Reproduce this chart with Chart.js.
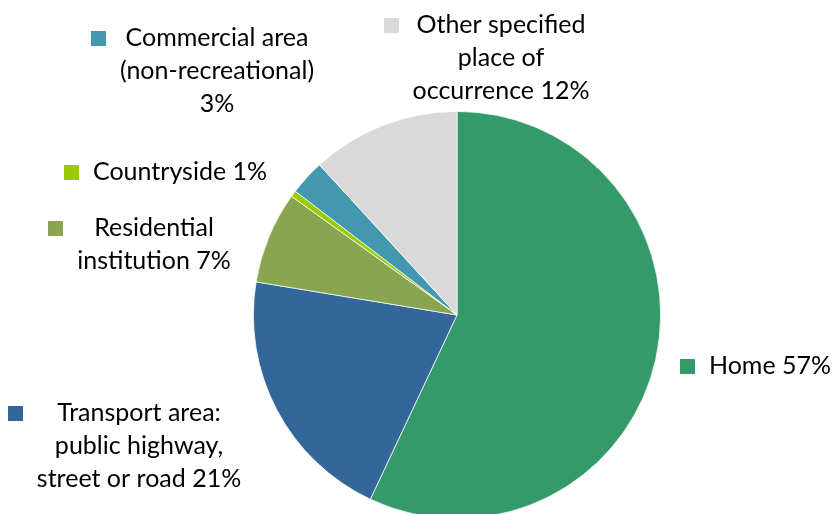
<!DOCTYPE html>
<html lang="en">
<head>
  <meta charset="UTF-8">
  <title>Place of occurrence</title>
  <script src="https://cdn.jsdelivr.net/npm/chart.js"></script>
  <style>
    body { margin: 0; overflow: hidden; background: #fff; }
    #wrap { position: relative; width: 832px; height: 519px; }
  </style>
</head>
<body>
  <div id="wrap"><canvas id="pieChart"></canvas></div>

  <script>
    // data, clockwise from 12 o'clock
    const categories = [
      ['Home'],
      ['Transport area:', 'public highway,', 'street or road'],
      ['Residential', 'institution'],
      ['Countryside'],
      ['Commercial area', '(non-recreational)'],
      ['Other specified', 'place of', 'occurrence']
    ];
    const shares = [57.0, 20.6, 7.3, 0.5, 2.8, 11.8];
    const colours = ['#349a6a', '#336699', '#8aa54f', '#99cc00', '#4398af', '#d9d9d9'];

    // label block: centre x and first line y, as offsets from the pie centre
    const labelOffsets = [[313, 51], [-318, 98], [-303, -87], [-277, -143], [-240, -277], [44, -290]];
    // "Commercial area / (non-recreational) / 3%" keeps the percent on its own line
    const percentOwnLine = [false, false, false, false, true, false];

    const FONT = '25px Lato';
    const LINE_H = 33;
    const BOX = 15;

    const pieLabels = {
      id: 'pieLabels',
      afterDraw(chart) {
        const ctx = chart.ctx;
        const arc0 = chart.getDatasetMeta(0).data[0];
        const cx = arc0.x, cy = arc0.y;
        ctx.save();
        ctx.font = FONT;
        ctx.textAlign = 'center';
        ctx.textBaseline = 'middle';
        categories.forEach((lines, i) => {
          const pct = Math.round(shares[i]) + '%';
          let txt = lines.slice();
          if (percentOwnLine[i]) txt.push(pct);
          else txt[txt.length - 1] += ' ' + pct;
          const bx = cx + labelOffsets[i][0];
          const by = cy + labelOffsets[i][1];
          let w = 0;
          txt.forEach(t => { w = Math.max(w, ctx.measureText(t).width); });
          ctx.fillStyle = colours[i];
          ctx.fillRect(Math.round(bx - w / 2 - 14 - BOX), Math.round(by - BOX / 2), BOX, BOX);
          ctx.fillStyle = '#000';
          txt.forEach((t, k) => ctx.fillText(t, bx, by + k * LINE_H));
        });
        ctx.restore();
      }
    };

    new Chart(document.getElementById('pieChart'), {
      type: 'pie',
      data: {
        labels: categories.map(c => c.join(' ')),
        datasets: [{
          data: shares,
          backgroundColor: colours,
          borderColor: '#fff',
          borderWidth: 0.75
        }]
      },
      options: {
        responsive: true,
        maintainAspectRatio: false,
        animation: false,
        layout: { padding: { top: 111, bottom: 0, left: 253, right: 171 } },
        plugins: { legend: { display: false }, tooltip: { enabled: false } }
      },
      plugins: [pieLabels]
    });
  </script>
</body>
</html>
